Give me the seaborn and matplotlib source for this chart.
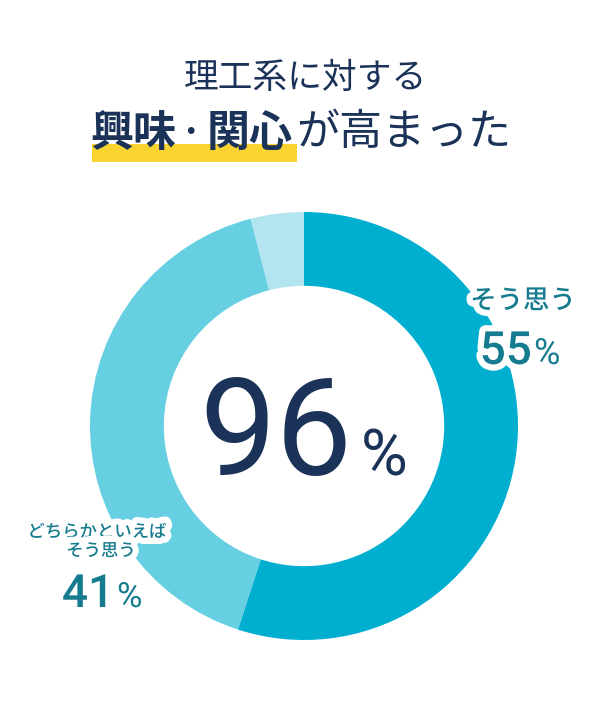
import matplotlib
matplotlib.use("Agg")
import matplotlib.pyplot as plt
import matplotlib.patheffects as pe
from matplotlib.patches import Rectangle
import seaborn as sns

# ---- data ----
categories = ["そう思う", "どちらかといえばそう思う", "その他"]
values = [55, 41, 4]
total_label = "96"
title_line1 = "理工系に対する"
title_bold = ["興味", "・", "関心"]
title_rest = "が高まった"

sns.set_theme(style="white")
plt.rcParams['font.family'] = ['Noto Sans CJK JP', 'DejaVu Sans']

colors = sns.color_palette(["#00AFCF", "#66CFE2", "#B3E5F0"])
NAVY = "#1B3358"
TEAL = "#157B8E"
YELLOW = "#F9D330"
NUMFONT = ["Roboto", "DejaVu Sans"]

W, H = 608, 726
fig = plt.figure(figsize=(W / 100, H / 100), dpi=100)
fig.patch.set_facecolor("white")

# donut axes
cx, cy, r = 304, 426, 214
ax = fig.add_axes([(cx - r) / W, 1 - (cy + r) / H, 2 * r / W, 2 * r / H])
ax.pie(values, colors=colors, startangle=90, counterclock=False, radius=1,
       wedgeprops=dict(width=0.345, edgecolor="none", linewidth=0))
ax.set_xlim(-1, 1)
ax.set_ylim(-1, 1)
ax.set_aspect("auto")
ax.axis("off")

# overlay axes in pixel coordinates
ov = fig.add_axes([0, 0, 1, 1], facecolor="none")
ov.set_xlim(0, W)
ov.set_ylim(H, 0)
ov.axis("off")

# title
ov.text(W / 2 + 1, 78, title_line1, ha="center", va="center", fontsize=25, color=NAVY)
ov.add_patch(Rectangle((92, 144), 205, 18, color=YELLOW, zorder=1, linewidth=0))
ov.text(133, 133, title_bold[0], ha="center", va="center", fontsize=31, color=NAVY,
        fontweight="bold", zorder=2)
ov.text(190, 133, title_bold[1], ha="center", va="center", fontsize=19, color=NAVY,
        fontweight="bold", zorder=2)
ov.text(250, 133, title_bold[2], ha="center", va="center", fontsize=31, color=NAVY,
        fontweight="bold", zorder=2)
ov.text(296, 133, title_rest, ha="left", va="center", fontsize=31, color=NAVY, zorder=2)

# center figure
ov.text(352, 475, total_label, ha="right", va="baseline", fontsize=98, color=NAVY,
        family=NUMFONT, fontweight="normal")
ov.text(361, 475, "%", ha="left", va="baseline", fontsize=46, color=NAVY,
        family=NUMFONT)

stroke = [pe.withStroke(linewidth=9, foreground="white", capstyle="round", joinstyle="round")]

# right label
ov.text(523, 301, categories[0], ha="center", va="center", fontsize=19, color=TEAL,
        fontweight="medium", path_effects=stroke)
ov.text(532, 364, f"{values[0]}", ha="right", va="baseline", fontsize=33, color=TEAL,
        family=NUMFONT, fontweight="medium", path_effects=stroke)
ov.text(534, 364, "%", ha="left", va="baseline", fontsize=26, color=TEAL,
        family=NUMFONT, path_effects=stroke)

# left label
ov.text(97, 532, "どちらかといえば", ha="center", va="center", fontsize=12.5, color=TEAL,
        fontweight="medium", path_effects=stroke)
ov.text(101, 551, "そう思う", ha="center", va="center", fontsize=12.5, color=TEAL,
        fontweight="medium", path_effects=stroke)
ov.text(114, 607, f"{values[1]}", ha="right", va="baseline", fontsize=33, color=TEAL,
        family=NUMFONT, fontweight="medium", path_effects=stroke)
ov.text(117, 607, "%", ha="left", va="baseline", fontsize=25, color=TEAL,
        family=NUMFONT, path_effects=stroke)

fig.savefig("out.png", dpi=100, facecolor="white")
